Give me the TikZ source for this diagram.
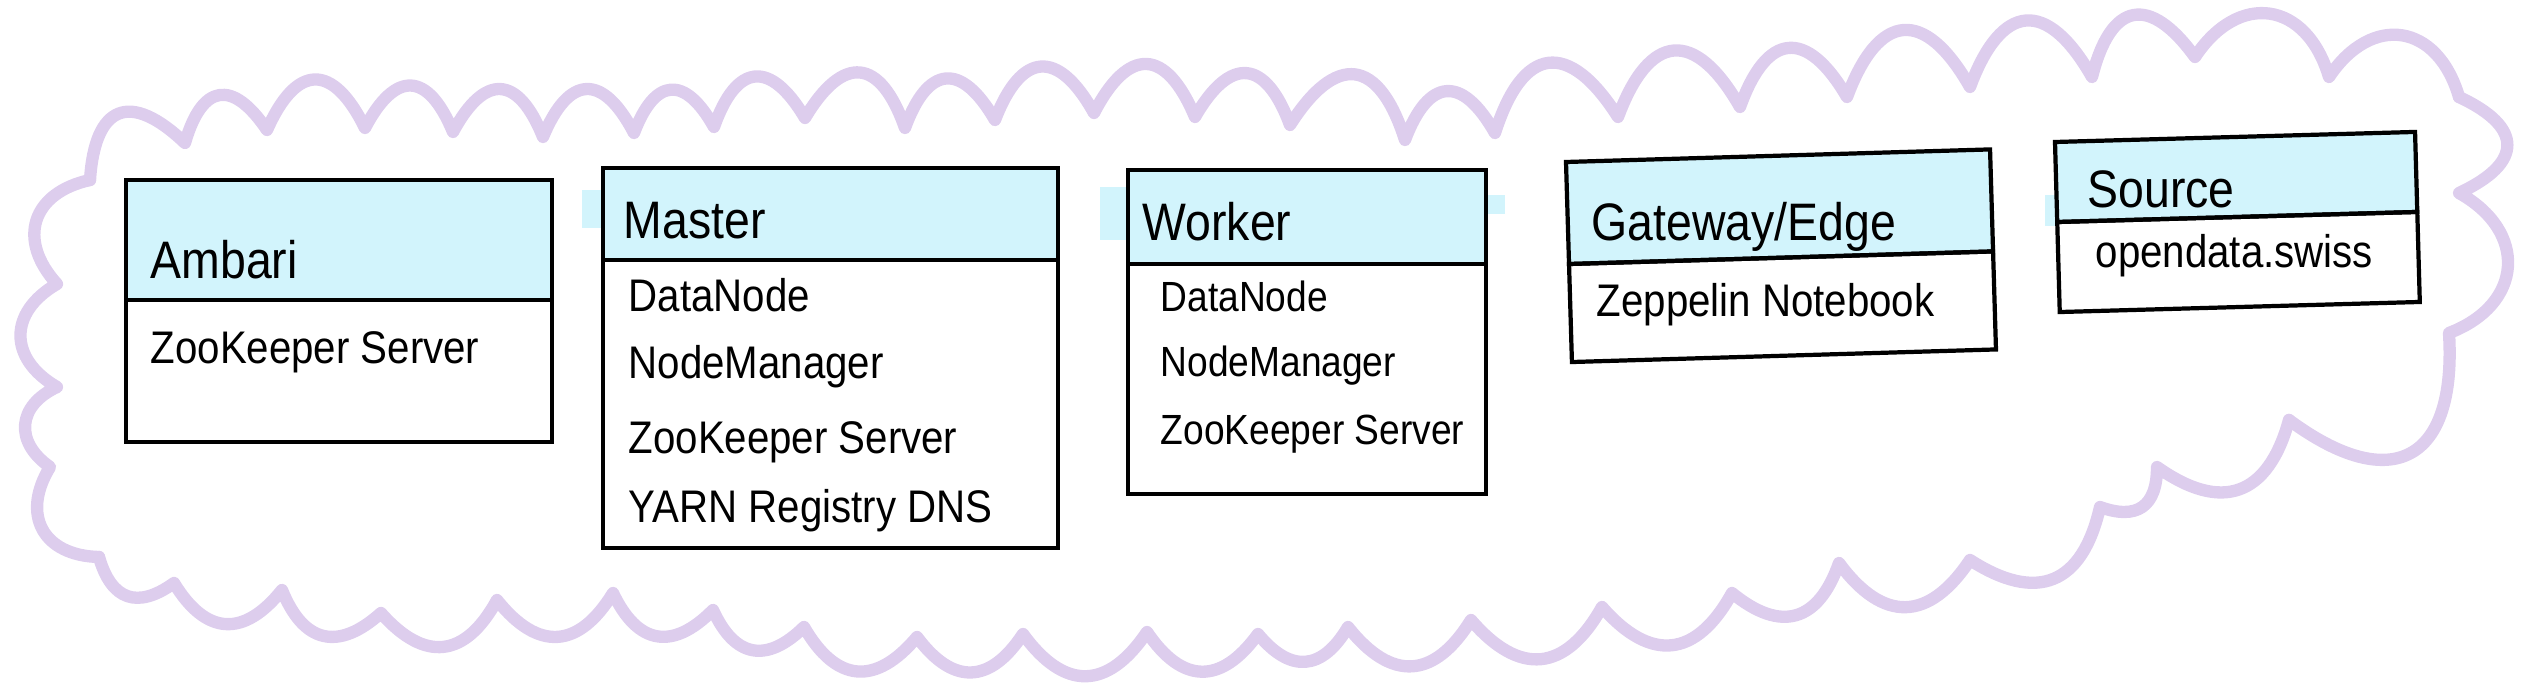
\documentclass[tikz,border=0pt]{standalone}
\usepackage{fontspec}
\setmainfont{Liberation Sans}[FakeStretch=0.88]
\usetikzlibrary{positioning}
\definecolor{headcyan}{RGB}{210,244,252}
\definecolor{cloudlila}{RGB}{221,205,237}

\begin{document}
\begin{tikzpicture}[x=0.01cm,y=-0.01cm,
	cloud/.style={cloudlila,line width=3.5pt,line cap=round,line join=round},
	head/.style={draw,fill=headcyan,line width=1.2pt,anchor=north west,inner sep=0pt,outer sep=0pt},
	body/.style={draw,line width=1.2pt,inner sep=0pt,outer sep=0pt},
	title/.style={anchor=base west,inner sep=0pt,font=\fontsize{15}{17}\selectfont},
	item/.style={anchor=base west,inner sep=0pt,font=\fontsize{13}{15}\selectfont}]
	\useasboundingbox (0,0) rectangle (2532,697);
	
	% cluster cloud, scallop by scallop (x/y/looseness)
	\draw[cloud,bend left=65] (90,180) \foreach \a/\b/\l in {185/143/1.9,267/130/1.9,
		365/128/1.9,453/132/1.9,543/137/1.9,634/133/1.9,714/127/1.9,805/118/1.9,
		905/128/1.9,995/120/1.9,1094/113/1.9,1195/117/1.9,1290/125/1.9,1405/140/1.9,
		1495/133/1.9,1618/117/1.9,1740/107/1.9,1847/97/1.9,1970/87/1.9,2092/77/1.9,
		2195/57/1.9,2329/77/1.5,2459/97/1.5}{ to[looseness=\l] (\a,\b) };
	\draw[cloud,bend left=65] (2459,97) \foreach \a/\b/\l in {2459/193/1.9,
		2449/333/1.45,2289/420/1.8}{ to[looseness=\l] (\a,\b) };
	\draw[cloud,bend left=55,looseness=1.45] (2289,420) \foreach \a/\b in {2157/467,
		2100/507,1970/560,1839/563,1732/593,1602/607,1471/620,1348/627,1258/634,
		1147/632,1023/634,917/637,804/627,713/610,613/593,497/600,
		381/613,282/590,174/583,99/557}{ to (\a,\b) };
	\draw[cloud,bend left=60,looseness=1.4] (99,557) \foreach \a/\b in {50/467,
		57/387,57/284,90/180}{ to (\a,\b) };
	
	% highlighter strokes sticking out of the headers
	\fill[headcyan] (582,190) rectangle (606,228);
	\fill[headcyan] (1100,187) rectangle (1130,240);
	\fill[headcyan] (1484,195) rectangle (1505,214);
	\fill[headcyan] (2045,195) rectangle (2058,226);
	
	% boxes: name/x/y/width/header height/body height/tilt
	\foreach \n/\x/\y/\w/\hh/\bh/\r in {amb/126/180/4.26/1.20/1.42/0,
		mas/603/168/4.55/0.92/2.88/0, wor/1128/170/3.58/0.94/2.30/0,
		gat/1566/162/4.24/1.02/0.98/1.7, src/2055/142/3.60/0.80/0.90/1.6}{
		\node[head,rotate=\r,minimum width=\w cm,minimum height=\hh cm] (\n) at (\x,\y) {};
		\node[body,rotate=\r,minimum width=\w cm,minimum height=\bh cm,below=0pt of \n] (\n b) {};
	}
	
	% titles
	\node[title] (amb t) at (150,278) {Ambari};
	\node[title] (mas t) at (623,238) {Master};
	\node[title] (wor t) at (1142,240) {Worker};
	\node[title] (gat t) at (1591,240) {Gateway/Edge};
	\node[title] (src t) at (2087,207) {Source};
	
	% services
	\node[item] (amb1) at (150,363) {ZooKeeper Server};
	\foreach \yy/\txt [count=\k] in {311/DataNode,378/NodeManager,
		453/ZooKeeper Server,522/YARN Registry DNS}{
		\node[item] (mas\k) at (628,\yy) {\txt};
	}
	\foreach \yy/\txt [count=\k] in {311/DataNode,376/NodeManager,444/ZooKeeper Server}{
		\node[item,font=\fontsize{12}{14}\selectfont] (wor\k) at (1160,\yy) {\txt};
	}
	\node[item] (gat1) at (1596,316) {Zeppelin Notebook};
	\node[item] (src1) at (2095,267) {opendata.swiss};
\end{tikzpicture}
\end{document}
